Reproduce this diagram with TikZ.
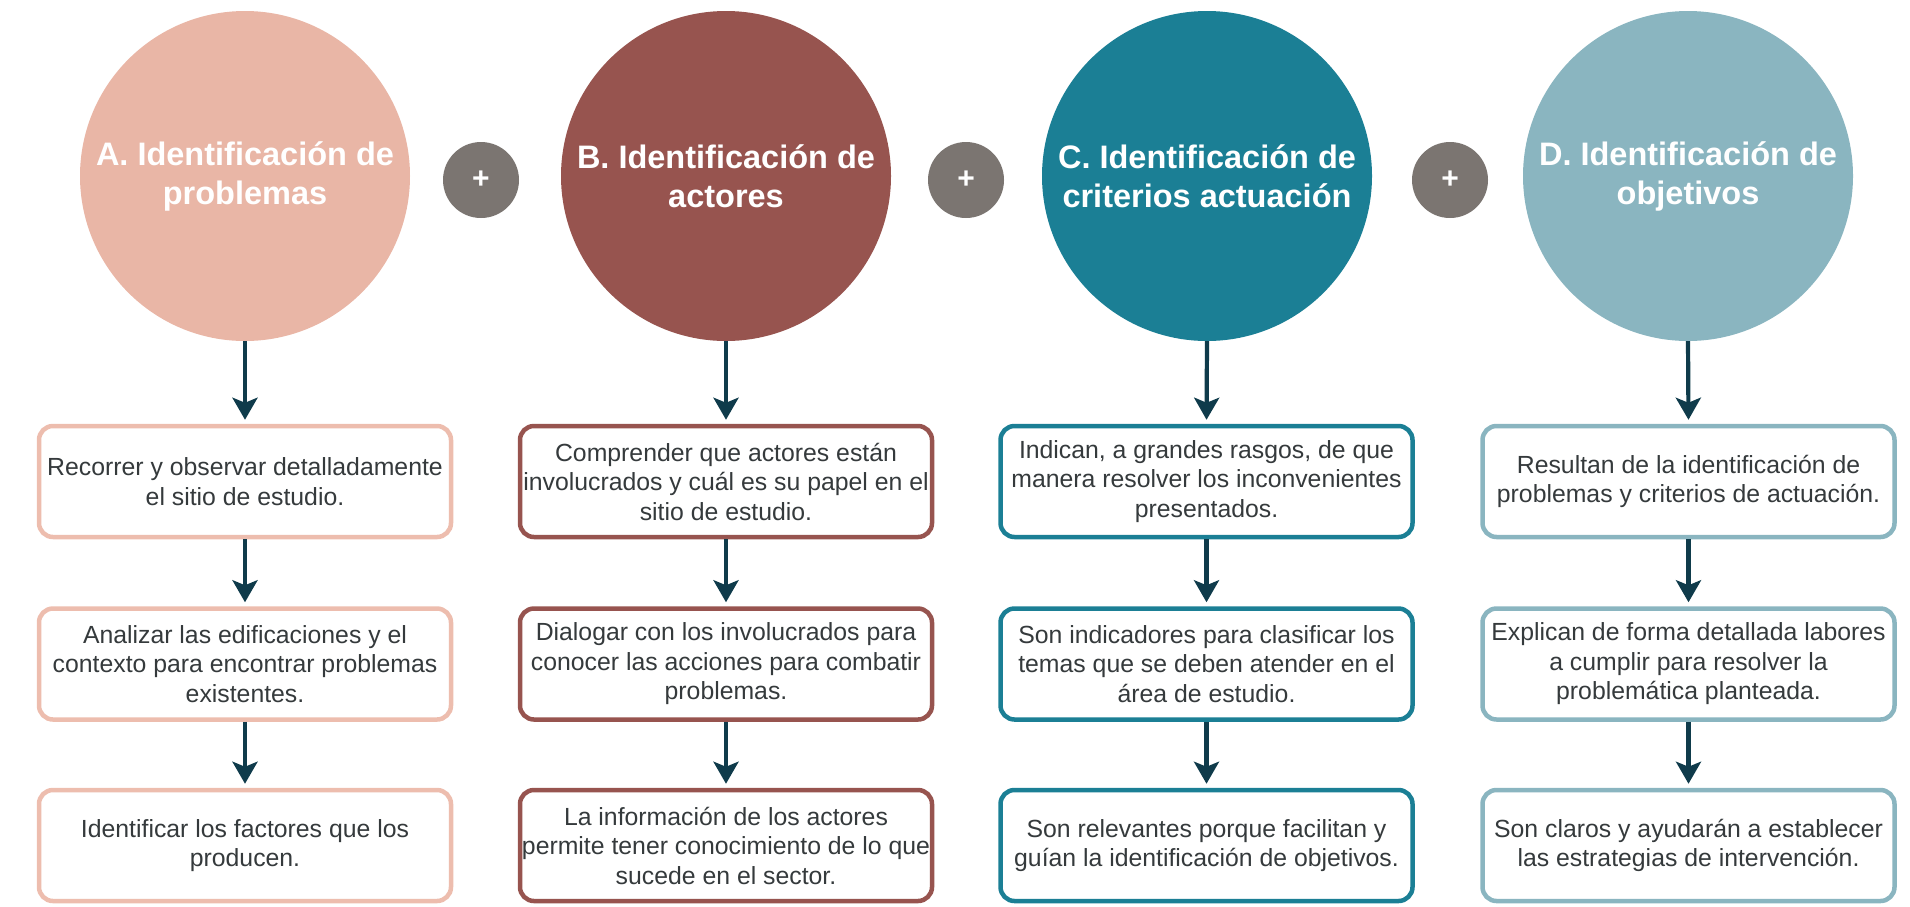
\documentclass[tikz,border=0pt]{standalone}
\usepackage{fontspec}
\setmainfont{Liberation Sans}
\usetikzlibrary{arrows.meta}
\definecolor{cA}{HTML}{E9B6A6}
\definecolor{cAb}{HTML}{EDBDAE}
\definecolor{cB}{HTML}{97544F}
\definecolor{cC}{HTML}{1B7F95}
\definecolor{cD}{HTML}{8AB5C0}
\definecolor{plusgray}{HTML}{7B7571}
\definecolor{arrowc}{HTML}{0F3B4B}
\definecolor{txt}{HTML}{353A3C}
\tikzset{
  bigcirc/.style={circle, minimum size=330pt, inner sep=0pt, text=white, align=center,
    font=\bfseries\fontsize{32.5}{39}\selectfont},
  plusnode/.style={circle, fill=plusgray, minimum size=76pt, inner sep=0pt, text=white,
    font=\bfseries\fontsize{30}{30}\selectfont},
  infobox/.style={rectangle, rounded corners=14pt, line width=4.5pt, fill=white,
    minimum width=412pt, minimum height=111pt, text=txt, align=center, inner sep=0pt,
    font=\fontsize{24.8}{29.5}\selectfont},
  flow/.style={draw=arrowc, line width=4.2pt, shorten >=4pt,
    -{Stealth[length=22pt,width=25pt,inset=5pt]}}
}
\begin{document}
\begin{tikzpicture}[x=1pt,y=-1pt]
\useasboundingbox (0,0) rectangle (1910,906);
% circles
\node[bigcirc, fill=cA] (a0) at (245,176) {A. Identificación de\\problemas};
\node[bigcirc, fill=cB] (b0) at (726,176) {B. Identificación de\\actores};
\node[bigcirc, fill=cC] (c0) at (1207,176) {C. Identificación de\\criterios actuación};
\node[bigcirc, fill=cD] (d0) at (1688,176) {D. Identificación de\\objetivos};
% plus signs
\node[plusnode] (p1) at (481,180) {+};
\node[plusnode] (p2) at (966,180) {+};
\node[plusnode] (p3) at (1450,180) {+};
% column A
\node[infobox, draw=cAb] (a1) at (245,481.5) {Recorrer y observar detalladamente\\el sitio de estudio.};
\node[infobox, draw=cAb] (a2) at (245,664) {Analizar las edificaciones y el\\contexto para encontrar problemas\\existentes.};
\node[infobox, draw=cAb] (a3) at (245,845.5) {Identificar los factores que los\\producen.};
% column B
\node[infobox, draw=cB] (b1) at (726,481.5) {Comprender que actores están\\involucrados y cuál es su papel en el\\sitio de estudio.};
\node[infobox, draw=cB] (b2) at (726,664) {Dialogar con los involucrados para\\conocer las acciones para combatir\\problemas.};
\node[infobox, draw=cB] (b3) at (726,845.5) {La información de los actores\\permite tener conocimiento de lo que\\sucede en el sector.};
% column C
\node[infobox, draw=cC] (c1) at (1206.5,481.5) {Indican, a grandes rasgos, de que\\manera resolver los inconvenientes\\presentados.};
\node[infobox, draw=cC] (c2) at (1206.5,664) {Son indicadores para clasificar los\\temas que se deben atender en el\\área de estudio.};
\node[infobox, draw=cC] (c3) at (1206.5,845.5) {Son relevantes porque facilitan y\\guían la identificación de objetivos.};
% column D
\node[infobox, draw=cD] (d1) at (1688.5,481.5) {Resultan de la identificación de\\problemas y criterios de actuación.};
\node[infobox, draw=cD] (d2) at (1688.5,664) {Explican de forma detallada labores\\a cumplir para resolver la\\problemática planteada.};
\node[infobox, draw=cD] (d3) at (1688.5,845.5) {Son claros y ayudarán a establecer\\las estrategias de intervención.};
% arrows
\foreach \c in {a,b,c,d}{
  \draw[flow] (\c0.south) -- (\c1.north);
  \draw[flow] (\c1.south) -- (\c2.north);
  \draw[flow] (\c2.south) -- (\c3.north);
}
\end{tikzpicture}
\end{document}
